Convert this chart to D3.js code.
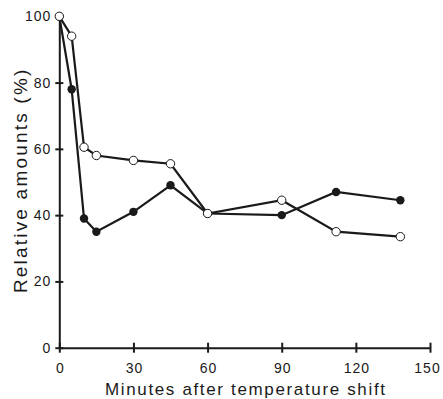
<!DOCTYPE html>
<html>
<head>
<meta charset="utf-8">
<script src="https://cdn.jsdelivr.net/npm/d3@7"></script>
<style>
  body { margin: 0; background: #fff; }
  svg { display: block; }
  .axis text { font-family: "Liberation Sans", Arial, sans-serif; font-size: 14px; letter-spacing: 1px; fill: #1a1a1a; }
  .axis path, .axis line { stroke: #1a1a1a; stroke-width: 2px; }
</style>
</head>
<body>
<div id="chart"></div>
<script>
// Data
const minutes = [0, 5, 10, 15, 30, 45, 60, 90, 112, 138];
const openValues = [100, 94, 60.5, 58, 56.5, 55.5, 40.5, 44.5, 35, 33.5];
const filledValues = [100, 78, 39, 35, 41, 49, 40.5, 40, 47, 44.5];
const xTicks = [0, 30, 60, 90, 120, 150];
const yTicks = [0, 20, 40, 60, 80, 100];

const totalW = 443, totalH = 399;
const margin = { top: 16.3, right: 13, bottom: 51.3, left: 59.3 };
const width = totalW - margin.left - margin.right;
const height = totalH - margin.top - margin.bottom;

const svg = d3.select('#chart').append('svg')
  .attr('width', totalW)
  .attr('height', totalH)
  .append('g')
  .attr('transform', `translate(${margin.left},${margin.top})`);

const x = d3.scaleLinear().domain([0, 150]).range([0, width]);
const y = d3.scaleLinear().domain([0, 100]).range([height, 0]);

// X axis, ticks crossing the line
const xAxisGroup = svg.append('g')
  .attr('class', 'axis')
  .attr('transform', `translate(0,${height})`)
  .call(d3.axisBottom(x).tickValues(xTicks).tickSize(5).tickSizeOuter(0).tickPadding(10));
xAxisGroup.selectAll('.tick line').attr('y1', -5).attr('stroke-width', 1.6);
xAxisGroup.selectAll('.tick text').attr('dx', (d, i) => i === xTicks.length - 1 ? '-3px' : '0.5px');

// Y axis
const yAxisGroup = svg.append('g')
  .attr('class', 'axis')
  .call(d3.axisLeft(y).tickValues(yTicks).tickSize(4).tickSizeOuter(0).tickPadding(4));
yAxisGroup.selectAll('.tick line').attr('x1', 4).attr('stroke-width', 1.6);

// Axis titles
svg.append('text')
  .attr('x', 186.5)
  .attr('y', height + 47)
  .attr('text-anchor', 'middle')
  .style('font-family', '"Liberation Sans", Arial, sans-serif')
  .style('font-size', '17px')
  .style('letter-spacing', '1.65px')
  .style('fill', '#1a1a1a')
  .text('Minutes after temperature shift');

svg.append('text')
  .attr('transform', 'rotate(-90)')
  .attr('x', -164)
  .attr('y', -32.3)
  .attr('text-anchor', 'middle')
  .style('font-family', '"Liberation Sans", Arial, sans-serif')
  .style('font-size', '19px')
  .style('letter-spacing', '2.2px')
  .style('fill', '#1a1a1a')
  .text('Relative amounts (%)');

const line = d3.line()
  .x(d => x(d[0]))
  .y(d => y(d[1]));

const filledData = minutes.map((m, i) => [m, filledValues[i]]);
const openData = minutes.map((m, i) => [m, openValues[i]]);

// Filled series
svg.append('path')
  .datum(filledData)
  .attr('d', line)
  .attr('fill', 'none')
  .attr('stroke', '#1a1a1a')
  .attr('stroke-width', 2.2);

svg.selectAll('.dot-filled')
  .data(filledData)
  .enter().append('circle')
  .attr('class', 'dot-filled')
  .attr('cx', d => x(d[0]))
  .attr('cy', d => y(d[1]))
  .attr('r', 4.2)
  .attr('fill', '#1a1a1a');

// Open series
svg.append('path')
  .datum(openData)
  .attr('d', line)
  .attr('fill', 'none')
  .attr('stroke', '#1a1a1a')
  .attr('stroke-width', 2.2);

svg.selectAll('.dot-open')
  .data(openData)
  .enter().append('circle')
  .attr('class', 'dot-open')
  .attr('cx', d => x(d[0]))
  .attr('cy', d => y(d[1]))
  .attr('r', 4.2)
  .attr('fill', '#fff')
  .attr('stroke', '#1a1a1a')
  .attr('stroke-width', 1);
</script>
</body>
</html>
